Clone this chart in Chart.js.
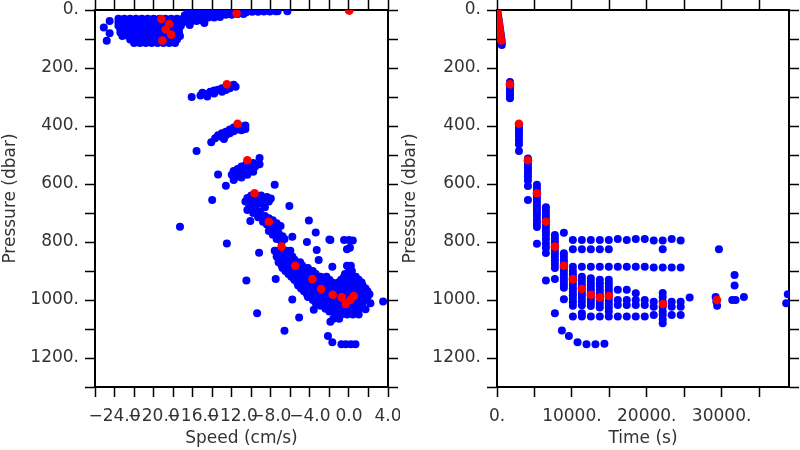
<!DOCTYPE html>
<html><head><meta charset="utf-8">
<script src="https://cdn.jsdelivr.net/npm/chart.js@4"></script>
<style>
html,body{margin:0;padding:0;background:#fff;width:800px;height:450px;overflow:hidden}
.wrap{position:absolute;top:0;width:400px;height:450px}
canvas{display:block}
</style></head><body>
<div class="wrap" style="left:0"><canvas id="c1" width="400" height="450" style="width:400px;height:450px"></canvas></div>
<div class="wrap" style="left:400px"><canvas id="c2" width="400" height="450" style="width:400px;height:450px"></canvas></div>
<script>
// ---------- DATA ----------
// red (highlighted) samples: shared pressure, speed and time
const redPressure = [2, 11, 31, 48, 67, 85, 105, 256, 392, 518, 632, 730, 816, 882, 928, 962, 982, 991, 1014, 1000, 986];
const redSpeed    = [0.05, -11.5, -19.2, -18.4, -18.75, -18.2, -19.1, -12.5, -11.4, -10.4, -9.66, -8.2, -6.9, -5.5, -3.74, -2.85, -1.66, -0.74, -0.33, 0.15, 0.5];
const redTime     = [10, 60, 170, 270, 370, 470, 580, 1733, 2933, 4133, 5333, 6533, 7733, 8933, 10133, 11333, 12533, 13733, 22178, 29378, 14933];

// blue samples, speed panel: [speed (cm/s), pressure (dbar)]
const speedSurface = [[-25.1,60],[-24.5,38],[-24.8,106],[-24.5,80],
 [-23.6,30],[-23,30],[-22.4,30],[-21.8,30],[-21.2,30],[-20.6,30],[-20,30],[-19.4,30],[-18.8,30],[-18.2,30],[-17.6,30],[-17,30],
 [-23.6,42],[-23,42],[-22.4,42],[-21.8,42],[-21.2,42],[-20.6,42],[-20,42],[-19.4,42],[-18.8,42],[-18.2,42],[-17.6,42],[-17,42],
 [-23.6,54],[-23,54],[-22.4,54],[-21.8,54],[-21.2,54],[-20.6,54],[-20,54],[-19.4,54],[-18.8,54],[-18.2,54],[-17.6,54],[-17.2,54],
 [-23.4,66],[-22.8,66],[-22.2,66],[-21.6,66],[-21,66],[-20.4,66],[-19.8,66],[-19.2,66],[-18.6,66],[-18,66],[-17.4,66],
 [-23.4,78],[-22.8,78],[-22.2,78],[-21.6,78],[-21,78],[-20.4,78],[-19.8,78],[-19.2,78],[-18.6,78],[-18,78],[-17.4,78],
 [-23.2,90],[-22.6,90],[-22,90],[-21.4,90],[-20.8,90],[-20.2,90],[-19.6,90],[-19,90],[-18.4,90],[-17.8,90],[-17.3,90],
 [-22.4,102],[-21.8,102],[-21.2,102],[-20.6,102],[-20,102],[-19.4,102],[-18.8,102],[-18.2,102],[-17.6,102],
 [-22,114],[-21.4,114],[-20.8,114],[-20.2,114],[-19.6,114],[-19,114],[-18.4,114],[-17.8,114]];
const speedStreak = [[-16.5,8],[-15.9,8],[-15.3,8],[-14.7,8],[-14.1,8],[-13.5,8],[-12.9,8],[-12.3,8],[-11.7,8],[-11.1,8],
 [-10.5,8],[-9.9,6],[-9.3,6],[-8.7,5],[-8.1,5],[-7.5,4],
 [-16.8,18],[-16.2,18],[-15.6,18],[-15,18],[-14.4,18],[-13.8,18],[-13.2,18],[-12.6,16],[-12,16],[-11.4,14],[-10.8,14],
 [-16.8,28],[-16.2,28],[-15.6,28],[-15,28],[-14.4,26],[-13.8,26],[-13.2,24],
 [-16.8,40],[-16.2,40],[-15.6,38],[-15,36],
 [-16.3,52],[-14.8,45],[-7.3,4],[-6.3,4],[0,1]];
const speed250 = [[-16.1,300],[-15.2,295],[-15,285],[-14.6,290],[-14.2,282],[-13.8,288],[-13.8,278],[-13.4,275],
 [-13,282],[-13,270],[-12.6,268],[-12.6,276],[-12.2,262],[-12.2,270],[-11.8,258],[-11.6,265],[-14.5,298]];
const speed400 = [[-15.6,486],[-14.1,456],[-13.7,442],[-13.4,432],[-13,438],[-13,425],[-12.6,420],[-12.6,432],
 [-12.2,412],[-12.2,425],[-11.8,405],[-11.8,418],[-11.4,400],[-11.4,412],[-11,402],[-11,415],[-10.6,398],[-10.6,410],[-12.8,445]];
const speed550 = [[-13.4,567],[-12.6,606],[-12,568],[-11.8,555],[-11.5,575],[-11.4,548],[-11.2,565],[-11,540],
 [-10.8,555],[-10.6,535],[-10.4,550],[-10.2,530],[-10,545],[-9.8,528],[-9.8,558],[-10.4,568],[-11,578],
 [-9.15,510],[-9.15,532],[-9.6,540],[-11.8,586]];
const speed650 = [[-14,655],[-7.6,603],[-6.1,676],[-10.1,728],[-10.6,660],[-10.4,648],[-10.2,672],[-10,640],
 [-9.8,660],[-9.6,685],[-9.4,645],[-9.2,668],[-9,640],[-8.8,655],[-8.6,680],[-8.4,645],[-8.2,660],[-8,650],
 [-9.8,700],[-10.4,690],[-9.2,695]];
const speed750 = [[-9.3,715],[-9,705],[-8.6,710],[-8.2,718],[-7.8,725],[-7.4,735],[-7,745],[-8.8,730],[-8.4,740],
 [-8,750],[-7.6,760],[-7.2,770],[-6.8,780],[-7.8,775],[-7.4,790],[-6.9,800],[-8.2,762],[-6.6,790],[-9.2,837],
 [-12.5,805],[-17.3,747],[-4.1,726],[-3.4,767],[-2,791],[-4.3,800],[-5.8,782],[-1.9,793]];
const speedBand = [[-7.6,830],[-7.2,830],[-6.8,830],[-6.4,830],[-6,830],
 [-7.4,840],[-7,840],[-6.6,840],[-6.2,840],
 [-7.4,850],[-7,850],[-6.6,850],[-6.2,850],[-5.8,850],
 [-7.2,860],[-6.8,860],[-6.4,860],[-6,860],[-5.6,860],
 [-7.2,870],[-6.6,870],[-6,870],[-5.4,870],[-5,870],
 [-6.9,880],[-6.3,880],[-5.7,880],[-5.1,880],[-4.8,880],
 [-6.8,890],[-6.2,890],[-5.6,890],[-5,890],[-4.6,890],[-4.2,890],
 [-6.5,900],[-5.9,900],[-5.3,900],[-4.7,900],[-4.1,900],[-3.7,900],[0,900],[0.3,900],
 [-6.2,910],[-5.6,910],[-5,910],[-4.4,910],[-3.8,910],[-3.4,910],[-0.4,910],[0.2,910],
 [-5.9,920],[-5.3,920],[-4.7,920],[-4.1,920],[-3.5,920],[-2.9,920],[-2.3,920],[-0.5,920],[0.1,920],[0.7,920],
 [-5.6,930],[-5,930],[-4.4,930],[-3.8,930],[-3.2,930],[-2.6,930],[-2,930],[-0.8,930],[-0.2,930],[0.4,930],[1,930],
 [-5.3,940],[-4.7,940],[-4.1,940],[-3.5,940],[-2.9,940],[-2.3,940],[-1.7,940],[-1.1,940],[-0.5,940],[0.1,940],[0.7,940],[1.3,940],
 [-5.2,950],[-4.6,950],[-4,950],[-3.4,950],[-2.8,950],[-2.2,950],[-1.6,950],[-1,950],[-0.4,950],[0.2,950],[0.8,950],[1.4,950],
 [-4.9,960],[-4.3,960],[-3.7,960],[-3.1,960],[-2.5,960],[-1.9,960],[-1.3,960],[-0.7,960],[-0.1,960],[0.5,960],[1.1,960],[1.7,960],
 [-4.6,970],[-4,970],[-3.4,970],[-2.8,970],[-2.2,970],[-1.6,970],[-1,970],[-0.4,970],[0.2,970],[0.8,970],[1.4,970],[1.9,970],
 [-4.3,980],[-3.7,980],[-3.1,980],[-2.5,980],[-1.9,980],[-1.3,980],[-0.7,980],[-0.1,980],[0.5,980],[1.1,980],[1.7,980],[2.1,980],
 [-4.2,990],[-3.6,990],[-3,990],[-2.4,990],[-1.8,990],[-1.2,990],[-0.6,990],[0,990],[0.6,990],[1.2,990],[1.9,990],
 [-3.7,1000],[-3.1,1000],[-2.5,1000],[-1.9,1000],[-1.3,1000],[-0.7,1000],[-0.1,1000],[0.5,1000],[1.1,1000],[1.7,1000],
 [-3.4,1010],[-2.8,1010],[-2.2,1010],[-1.6,1010],[-1,1010],[-0.4,1010],[0.2,1010],[0.8,1010],[1.4,1010],
 [-2.9,1020],[-2.3,1020],[-1.7,1020],[-1.1,1020],[-0.5,1020],[0.1,1020],[0.7,1020],[1.2,1020],
 [-2.4,1030],[-1.8,1030],[-1.2,1030],[-0.6,1030],[0,1030],[0.6,1030],[1,1030],
 [-2,1040],[-1.4,1040],[-0.8,1040],[-0.2,1040],[0.4,1040],[0.9,1040],
 [-1.4,1050],[-0.8,1050],[-0.2,1050],[0.4,1050],[1,1050],
 [-1.6,1065],[-1,1065]];
const speedOutliers = [[-3.3,828],[-3.1,862],[-1.7,885],[-7.5,928],[-10.5,933],[-9.4,1046],[-6.6,1106],[-5.8,998],
 [-5.1,1060],[-3.6,1034],[-2.15,1124],[-1.7,1146],[-0.77,1153],[-0.3,1153],[0.2,1153],[0.67,1153],[3.5,1005],
 [2.2,1011],[1.7,1032],[-1.9,1075],[-0.5,793],[0,793],[0.4,795],[-0.2,825],[0.1,820],[-0.2,882],[0.2,882]];

// blue samples, time panel: profile columns (s) and their pressures (dbar)
const timeSurface = [[0,0],[60,8],[120,18],[180,28],[240,38],[300,48],[360,58],[420,68],[480,78],[540,90],[600,102],[630,112],[640,121]];
const timeColumns = [1733, 2933, 4133, 5333, 6533, 7733, 8933, 10133, 11333, 12533, 13733, 14933, 16133, 17333, 18533, 19733, 20933, 22133, 23333, 24533];
const timeColumnPressures = [
 [248,256,264,272,280,288,296,304],
 [395,405,415,425,437,450,463,486],
 [512,522,532,542,552,562,574,588,607,655],
 [603,614,626,638,650,662,674,686,698,710,724,736,748,806],
 [680,692,704,716,728,740,752,764,776,790,805,820,838,933],
 [776,788,800,812,828,840,852,864,876,890,928,1046],
 [768,839,851,863,875,887,899,911,923,935,947,958,997],
 [793,825,885,900,912,924,936,948,960,972,984,996,1008,1020,1057],
 [793,825,885,920,932,944,956,968,980,992,1004,1018,1046,1057],
 [793,825,885,925,937,949,961,973,985,997,1009,1021,1057],
 [793,825,885,930,942,954,966,978,990,1002,1014,1026,1057],
 [793,825,885,930,942,954,966,978,990,1002,1014,1026,1040,1057],
 [790,885,965,1000,1017,1057],
 [793,885,965,1000,1017,1057],
 [790,885,977,1000,1017,1057],
 [790,885,1000,1017,1057],
 [795,888,1006,1023,1052],
 [795,825,888,976,990,1006,1023,1040,1052,1067,1080],
 [790,888,1006,1023,1052],
 [795,888,1006,1023,1052]];
const timeOthers = [[8667,1105],[9600,1124],[10756,1146],[11956,1153],[13150,1153],[14350,1151],
 [25733,991],[29200,990],[29400,1020],[29300,1005],[29640,825],[31422,1000],[31867,1000],[31733,914],[31733,950],
 [32978,990],[38840,980],[38622,1011]];

// tick labels
const pressureTickValues = [0, 200, 400, 600, 800, 1000, 1200];
const pressureTickLabels = ['0.', '200.', '400.', '600.', '800.', '1000.', '1200.'];
const speedTickValues = [-24, -20, -16, -12, -8, -4, 0, 4];
const speedTickLabels = ['\u221224.0', '\u221220.0', '\u221216.0', '\u221212.0', '\u22128.0', '\u22124.0', '0.0', '4.0'];
const timeTickValues = [0, 10000, 20000, 30000];
const timeTickLabels = ['0.', '10000.', '20000.', '30000.'];

// ---------- CHART ----------
const FONT = {family: "'DejaVu Sans', sans-serif", size: 17, weight: 'normal'};
const TXT = '#333';
function lab(values, labels) {
  return v => { const i = values.findIndex(t => Math.abs(t - v) < 1e-6); return i >= 0 ? labels[i] : ''; };
}
function fixedTicks(min, max, step) {
  return s => { const t = []; for (let k = 0; min + k * step <= max + 1e-9; k++) t.push({value: min + k * step}); s.ticks = t; };
}
const gridOpts = {drawOnChartArea: false, drawTicks: true, tickLength: 10, tickColor: '#000', tickWidth: 1.5};
const borderOpts = {display: true, color: '#000', width: 2};

function makeScales(x, yWidth) {
  return {
    x: {type: 'linear', position: 'bottom', min: x.min, max: x.max, border: borderOpts, grid: gridOpts,
        afterBuildTicks: fixedTicks(x.min, x.max, x.step),
        ticks: {autoSkip: false, maxRotation: 0, minRotation: 0, padding: 9,
                color: TXT, font: FONT, callback: lab(x.values, x.labels)},
        title: {display: true, text: x.title, color: TXT, font: FONT, padding: {top: 0, bottom: 1}},
        afterFit(s) { s.height = 63; s.paddingLeft = 0; s.paddingRight = 0; }},
    xTop: {type: 'linear', position: 'top', min: x.min, max: x.max, border: borderOpts, grid: gridOpts,
        afterBuildTicks: fixedTicks(x.min, x.max, x.step),
        ticks: {display: false, autoSkip: false},
        afterFit(s) { s.height = 10; s.paddingLeft = 0; s.paddingRight = 0; }},
    y: {type: 'linear', position: 'left', reverse: true, min: 0, max: 1300, border: borderOpts, grid: gridOpts,
        afterBuildTicks: fixedTicks(0, 1300, 100),
        ticks: {autoSkip: false, padding: 6, color: TXT, font: FONT,
                callback: lab(pressureTickValues, pressureTickLabels)},
        title: {display: true, text: 'Pressure (dbar)', color: TXT, font: FONT, padding: {top: 0, bottom: 0}},
        afterFit(s) { s.width = yWidth; s.paddingTop = 0; s.paddingBottom = 0; }},
    yRight: {type: 'linear', position: 'right', reverse: true, min: 0, max: 1300, border: borderOpts, grid: gridOpts,
        afterBuildTicks: fixedTicks(0, 1300, 100),
        ticks: {display: false, autoSkip: false},
        afterFit(s) { s.width = 11; s.paddingTop = 0; s.paddingBottom = 0; }}
  };
}
const toPts = arr => arr.map(([x, y]) => ({x, y}));
function ds(data, color, r) {
  return {data, backgroundColor: color, borderColor: color, borderWidth: 0, pointRadius: r, pointHoverRadius: r, showLine: false};
}

const leftBlue = toPts([].concat(speedSurface, speedStreak, speed250, speed400, speed550, speed650, speed750, speedBand, speedOutliers));
const leftRed = redPressure.map((p, i) => ({x: redSpeed[i], y: p}));
const rightBluePairs = [].concat(timeSurface, timeOthers);
timeColumns.forEach((t, i) => timeColumnPressures[i].forEach(p => rightBluePairs.push([t, p])));
const rightBlue = toPts(rightBluePairs);
const rightRed = redPressure.map((p, i) => ({x: redTime[i], y: p}));

const common = {responsive: false, animation: false, events: [],
  plugins: {legend: {display: false}, tooltip: {enabled: false}}};

new Chart(document.getElementById('c1'), {
  type: 'scatter',
  data: {datasets: [ds(leftRed, '#ff0000', 4.3), ds(leftBlue, '#0000ff', 4)]},
  options: Object.assign({}, common, {
    layout: {padding: {left: 0, right: 1, top: 0, bottom: 0}},
    scales: makeScales({min: -26, max: 4, step: 2, values: speedTickValues, labels: speedTickLabels, title: 'Speed (cm/s)'}, 95)
  })
});
new Chart(document.getElementById('c2'), {
  type: 'scatter',
  data: {datasets: [ds(rightRed, '#ff0000', 4.3), ds(rightBlue, '#0000ff', 4)]},
  options: Object.assign({}, common, {
    layout: {padding: {left: 0, right: 0, top: 0, bottom: 0}},
    scales: makeScales({min: 0, max: 39000, step: 5000, values: timeTickValues, labels: timeTickLabels, title: 'Time (s)'}, 97)
  })
});
</script>
</body></html>
